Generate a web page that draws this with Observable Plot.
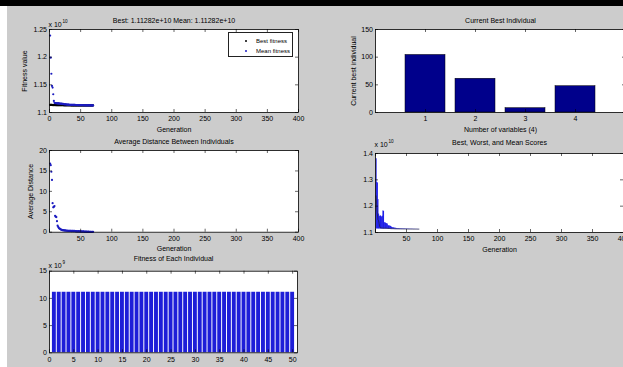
<!DOCTYPE html>
<html><head><meta charset="utf-8">
<script src="https://cdn.jsdelivr.net/npm/d3@7"></script>
<script src="https://cdn.jsdelivr.net/npm/@observablehq/plot@0.6"></script>
<style>
html,body{margin:0;padding:0;overflow:hidden;background:#cccccc;}
#fig{position:relative;width:623px;height:367px;overflow:hidden;background:#cccccc;font-family:"Liberation Sans",Arial,sans-serif;}
#topbar{position:absolute;left:0;top:0;width:623px;height:6px;background:#000;}
#leftstrip{position:absolute;left:0;top:6px;width:7px;height:361px;background:#fff;}
.panel{position:absolute;}
#legend{position:absolute;left:228px;top:32px;width:65px;height:25px;background:#fff;border:0.6px solid #222;box-sizing:border-box;font-size:6px;}
#legend .row{position:absolute;left:0;height:8px;line-height:8px;}
#legend .dot{position:absolute;left:16px;width:2.4px;height:2.4px;border-radius:50%;}
#legend .lab{position:absolute;left:27px;white-space:nowrap;top:-0.5px;}
</style></head><body>
<div id="fig"><div id="topbar"></div><div id="leftstrip"></div></div>
<script>
// ---------------- data ----------------
const gens = [1,2,3,4,5,6,7,8,9,10,11,12,13,14,15,16,17,18,19,20,21,22,23,24,25,26,27,28,29,30,
  31,32,33,34,35,36,37,38,39,40,41,42,43,44,45,46,47,48,49,50,51,52,53,54,55,56,57,58,59,60,
  61,62,63,64,65,66,67,68,69,70];
// fitness values in units of 1e10
const meanFitness = [1.239,1.199,1.170,1.148,1.145,1.133,1.121,1.1175,1.1168,1.1172,
  1.1165,1.1170,1.1162,1.1168,1.1160,1.1165,1.1158,1.1162,1.1155,1.1160,
  1.1152,1.1155,1.1150,1.1148,1.1150,1.1145,1.1147,1.1143,1.1144,1.1142,
  1.1141,1.1140,1.1140,1.1139,1.1139,1.1138,1.1138,1.1137,1.1137,1.1136,
  1.1136,1.1135,1.1135,1.1135,1.1134,1.1134,1.1134,1.1133,1.1133,1.1133,
  1.1132,1.1132,1.1132,1.1131,1.1131,1.1131,1.1130,1.1130,1.1130,1.1130,
  1.1129,1.1129,1.1129,1.1129,1.1129,1.1129,1.1128,1.1128,1.1128,1.11282];
const bestFitness = [1.1137,1.1137,1.1136,1.1136,1.1135,1.1135,1.1135,1.1134,1.1134,1.1134,
  1.1133,1.1133,1.1133,1.1133,1.1132,1.1132,1.1132,1.1132,1.1131,1.1131,
  1.1131,1.1131,1.1130,1.1130,1.1130,1.1130,1.1130,1.1129,1.1129,1.1129,
  1.1129,1.1129,1.1129,1.1129,1.11285,1.11285,1.11285,1.11285,1.11285,1.11285,
  1.11282,1.11282,1.11282,1.11282,1.11282,1.11282,1.11282,1.11282,1.11282,1.11282,
  1.11282,1.11282,1.11282,1.11282,1.11282,1.11282,1.11282,1.11282,1.11282,1.11282,
  1.11282,1.11282,1.11282,1.11282,1.11282,1.11282,1.11282,1.11282,1.11282,1.11282];
const worstScores = [1.380,1.290,1.288,1.225,1.170,1.162,1.160,1.163,1.160,1.158,
  1.162,1.182,1.180,1.138,1.135,1.136,1.134,1.133,1.132,1.126,
  1.125,1.124,1.125,1.123,1.122,1.119,1.118,1.118,1.117,1.117,
  1.116,1.116,1.1155,1.1150,1.1148,1.1146,1.1145,1.1144,1.1143,1.1142,
  1.1141,1.1140,1.1140,1.1139,1.1139,1.1138,1.1138,1.1137,1.1137,1.1136,
  1.1136,1.1135,1.1135,1.1135,1.1134,1.1134,1.1133,1.1133,1.1133,1.1132,
  1.1132,1.1132,1.1131,1.1131,1.1131,1.1130,1.1130,1.1130,1.1129,1.1129];
const avgDistance = [16.8,16.4,14.8,12.8,7.1,6.1,6.2,6.4,4.0,3.8,
  3.7,2.7,1.6,1.3,1.0,0.9,0.8,0.7,0.6,0.55,
  0.5,0.45,0.5,0.4,0.45,0.4,0.35,0.4,0.35,0.3,
  0.35,0.3,0.3,0.35,0.3,0.25,0.3,0.3,0.25,0.3,
  0.25,0.25,0.2,0.25,0.2,0.2,0.25,0.2,0.2,0.15,
  0.2,0.15,0.15,0.2,0.15,0.15,0.1,0.15,0.15,0.1,
  0.1,0.15,0.1,0.1,0.1,0.1,0.1,0.05,0.1,0.1];
const variables = [1,2,3,4];
const currentBest = [104,61,7.8,47.5];
const individuals = [1,2,3,4,5,6,7,8,9,10,11,12,13,14,15,16,17,18,19,20,21,22,23,24,25,
  26,27,28,29,30,31,32,33,34,35,36,37,38,39,40,41,42,43,44,45,46,47,48,49,50];
// fitness in units of 1e9
const individualFitness = [11.128,11.128,11.128,11.128,11.128,11.128,11.128,11.128,11.128,11.128,
  11.128,11.128,11.128,11.128,11.128,11.128,11.128,11.128,11.128,11.128,
  11.128,11.128,11.128,11.128,11.128,11.128,11.128,11.128,11.128,11.128,
  11.128,11.128,11.128,11.128,11.128,11.128,11.128,11.128,11.128,11.128,
  11.128,11.128,11.128,11.128,11.128,11.128,11.128,11.128,11.128,11.128];

const genTicksA = [0,50,100,150,200,250,300,350,400];
const genTicksB = [50,100,150,200,250,300,350,400];
const fitTicks = [1.1,1.15,1.2,1.25];
const distTicks = [0,5,10,15,20];
const bestIndTicks = [0,50,100,150];
const scoreTicks = [1.1,1.2,1.3,1.4];
const indTicks = [0,5,10,15,20,25,30,35,40,45,50];
const indYTicks = [0,5,10,15];

// ---------------- helpers ----------------
const FONT = '"Liberation Sans", Arial, sans-serif';
const fig = document.getElementById("fig");

function panel(o) {
  const fw = o.fx1 - o.fx0, fh = o.fy1 - o.fy0;
  const txt = [];
  if (o.title) txt.push(Plot.text([o.title], {text: d => d, frameAnchor: "top", dy: o.titleDy ?? -6.5, textAnchor: "middle", lineAnchor: "bottom", fill: "black"}));
  if (o.xlabel) txt.push(Plot.text([o.xlabel], {text: d => d, frameAnchor: "bottom", dy: o.xlabelDy ?? 19, textAnchor: "middle", lineAnchor: "bottom", fill: "black"}));
  if (o.ylabel) txt.push(Plot.text([o.ylabel], {text: d => d, frameAnchor: "left", dx: -(o.ylabelDx ?? 23), rotate: -90, textAnchor: "middle", lineAnchor: "middle", fill: "black"}));
  if (o.exp) {
    txt.push(Plot.text(["x 10"], {text: d => d, frameAnchor: "top-left", dx: -1, dy: o.expDy ?? -2.7, textAnchor: "start", lineAnchor: "bottom", fill: "black"}));
    txt.push(Plot.text([o.exp], {text: d => d, frameAnchor: "top-left", dx: 13, dy: (o.expDy ?? -2.7) - 4, textAnchor: "start", lineAnchor: "bottom", fontSize: 4.6, fill: "black"}));
  }
  const chart = Plot.plot({
    width: o.width, height: o.height,
    marginLeft: o.fx0 - o.left, marginRight: o.left + o.width - o.fx1,
    marginTop: o.fy0 - o.top, marginBottom: o.top + o.height - o.fy1,
    x: {domain: o.xDomain}, y: {domain: o.yDomain},
    style: {fontFamily: FONT, fontSize: "7px", color: "black", background: "transparent", overflow: "visible", maxWidth: "none"},
    marks: [
      Plot.frame({fill: "white", stroke: null}),
      ...o.marks,
      Plot.tickX(o.xTicks, {x: d => d, insetTop: fh - 3, stroke: "black", strokeWidth: 0.6}),
      Plot.tickX(o.xTicks, {x: d => d, insetBottom: fh - 3, stroke: "black", strokeWidth: 0.6}),
      Plot.tickY(o.yTicks, {y: d => d, insetRight: fw - 3, stroke: "black", strokeWidth: 0.6}),
      Plot.tickY(o.yTicks, {y: d => d, insetLeft: fw - 3, stroke: "black", strokeWidth: 0.6}),
      Plot.frame({stroke: "black", strokeWidth: 0.8}),
      Plot.axisX(o.xLabelTicks ?? o.xTicks, {tickSize: 0, tickPadding: 4, label: null, tickFormat: d => String(d), fill: "black"}),
      Plot.axisY(o.yTicks, {tickSize: 0, tickPadding: 2.5, label: null, tickFormat: d => String(d), fill: "black"}),
      ...txt
    ]
  });
  const wrap = document.createElement("div");
  wrap.className = "panel";
  wrap.style.left = o.left + "px";
  wrap.style.top = o.top + "px";
  wrap.style.width = o.width + "px";
  wrap.style.height = o.height + "px";
  wrap.appendChild(chart);
  fig.appendChild(wrap);
}

// ---------------- panel 1: best / mean fitness ----------------
panel({
  left: 0, top: 6, width: 310, height: 134,
  fx0: 49, fy0: 29, fx1: 298, fy1: 112,
  xDomain: [0, 400], yDomain: [1.1, 1.25],
  xTicks: genTicksA, yTicks: fitTicks,
  title: "Best: 1.11282e+10 Mean: 1.11282e+10",
  xlabel: "Generation", ylabel: "Fitness value", ylabelDx: 25, exp: "10",
  marks: [
    Plot.dot(gens, {x: gens, y: bestFitness, r: 1.1, fill: "black", stroke: null}),
    Plot.dot(gens, {x: gens, y: meanFitness, r: 1.1, fill: "#1c1cc0", stroke: null})
  ]
});

// ---------------- panel 2: current best individual ----------------
const bestRows = variables.map((v, i) => ({v, value: currentBest[i]}));
panel({
  left: 310, top: 6, width: 330, height: 134,
  fx0: 375, fy0: 29, fx1: 625, fy1: 112,
  xDomain: [0, 5], yDomain: [0, 150],
  xTicks: variables, yTicks: bestIndTicks,
  title: "Current Best Individual",
  xlabel: "Number of variables (4)", ylabel: "Current best individual", ylabelDx: 22,
  marks: [
    Plot.rectY(bestRows, {x1: d => d.v - 0.4, x2: d => d.v + 0.4, y1: 0, y2: "value", fill: "#00008b", stroke: "#000", strokeWidth: 0.5})
  ]
});

// ---------------- panel 3: average distance ----------------
panel({
  left: 0, top: 130, width: 310, height: 127,
  fx0: 49, fy0: 150, fx1: 298, fy1: 231.7,
  xDomain: [0, 400], yDomain: [0, 20],
  xTicks: genTicksA, xLabelTicks: genTicksB, yTicks: distTicks,
  title: "Average Distance Between Individuals",
  xlabel: "Generation", ylabel: "Average Distance", ylabelDx: 19,
  marks: [
    Plot.dot(gens, {x: gens, y: avgDistance, r: 1.1, fill: "#1c1cc0", stroke: null})
  ]
});

// ---------------- panel 4: best, worst, mean scores ----------------
panel({
  left: 310, top: 130, width: 330, height: 127,
  fx0: 375, fy0: 153, fx1: 623, fy1: 232,
  xDomain: [0, 400], yDomain: [1.1, 1.4],
  xTicks: genTicksA, xLabelTicks: genTicksB, yTicks: scoreTicks,
  title: "Best, Worst, and Mean Scores", titleDy: -8.5,
  xlabel: "Generation", xlabelDy: 19.5, exp: "10", expDy: -7,
  marks: [
    Plot.ruleX(gens, {x: gens, y1: bestFitness, y2: worstScores, stroke: "#1a1ae6", strokeWidth: 1}),
    Plot.line(gens, {x: gens, y: meanFitness, stroke: "#202050", strokeWidth: 0.8})
  ]
});

// ---------------- panel 5: fitness of each individual ----------------
const indRows = individuals.map((v, i) => ({v, value: individualFitness[i]}));
panel({
  left: 0, top: 245, width: 310, height: 122,
  fx0: 49, fy0: 270.7, fx1: 297, fy1: 352.3,
  xDomain: [0, 51], yDomain: [0, 15],
  xTicks: indTicks, yTicks: indYTicks,
  title: "Fitness of Each Individual", titleDy: -10.5,
  exp: "9", expDy: -3.5,
  marks: [
    Plot.rectY(indRows, {x1: d => d.v - 0.4, x2: d => d.v + 0.4, y1: 0, y2: "value", fill: "#1e1ed8", stroke: null})
  ]
});

// ---------------- legend for panel 1 ----------------
const legend = document.createElement("div");
legend.id = "legend";
[["Best fitness", "#000", 4], ["Mean fitness", "#1c1cc0", 14]].forEach(([t, c, y]) => {
  const row = document.createElement("div");
  row.className = "row"; row.style.top = y + "px"; row.style.width = "65px";
  const dot = document.createElement("div");
  dot.className = "dot"; dot.style.background = c; dot.style.top = "3px";
  const lab = document.createElement("div");
  lab.className = "lab"; lab.textContent = t;
  row.appendChild(dot); row.appendChild(lab);
  legend.appendChild(row);
});
fig.appendChild(legend);
</script>
</body></html>
